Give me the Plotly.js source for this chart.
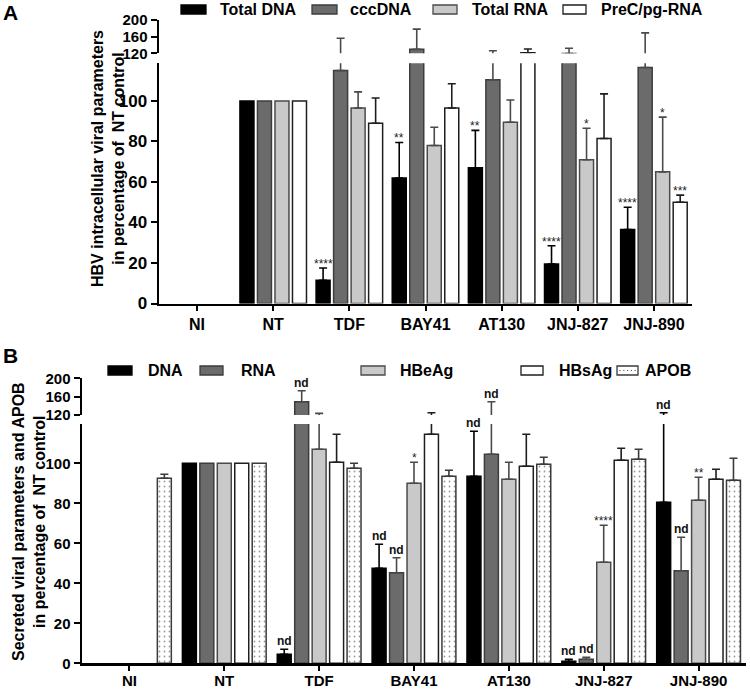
<!DOCTYPE html>
<html><head><meta charset="utf-8">
<script src="https://cdn.plot.ly/plotly-3.0.1.min.js"></script>
<style>html,body{margin:0;padding:0;background:#fff}#chart{width:750px;height:689px}</style>
</head><body><div id="chart"></div>
<script>
// ---------- DATA ----------
const categories = ['NI', 'NT', 'TDF', 'BAY41', 'AT130', 'JNJ-827', 'JNJ-890'];

// Panel A: HBV intracellular viral parameters (% of NT control)
const seriesA = ['Total DNA', 'cccDNA', 'Total RNA', 'PreC/pg-RNA'];
const totalDNA    = [null, 100, 11.5, 62, 67, 19.5, 36.5];
const totalDNAErr = [0, 0, 6, 17.5, 18.5, 9, 11];
const cccDNA      = [null, 100, 115, 129.5, 110.5, 119.3, 116.5];
const cccDNAErr   = [0, 0, 41, 48.5, 15.5, 12.7, 52.5];
const totalRNA    = [null, 100, 96.5, 78, 89.5, 71, 65];
const totalRNAErr = [0, 0, 8, 9, 11, 15.5, 27];
const preC        = [null, 100, 89, 96.5, 121.5, 81.5, 50];
const preCErr     = [0, 0, 12.5, 12, 9, 22, 3.5];

// Panel B: secreted viral parameters and APOB (% of NT control)
const seriesB = ['DNA', 'RNA', 'HBeAg', 'HBsAg', 'APOB'];
const dnaB      = [null, 100, 4.5, 47.5, 93.5, 1, 80.5];
const dnaBErr   = [0, 0, 2.5, 12, 22.5, 1, 44.5];
const rnaB      = [null, 100, 149, 45.3, 104.5, 2, 46.3];
const rnaBErr   = [0, 0, 24, 7.5, 44.5, 1, 16.7];
const hbeag     = [null, 100, 107, 90, 92, 50.5, 81.5];
const hbeagErr  = [0, 0, 16.5, 10.5, 8.5, 18.5, 11.5];
const hbsag     = [null, 100, 100.5, 114.5, 98.5, 101.5, 92];
const hbsagErr  = [0, 0, 14, 10.5, 16, 6, 5];
const apob      = [92.5, 100, 97.5, 93.5, 99.5, 102, 91.5];
const apobErr   = [2, 0, 2.5, 3, 3.5, 5, 11];

// significance labels: [series index, category, label]
const sigA = [[0, 'TDF', '****'], [0, 'BAY41', '**'], [0, 'AT130', '**'], [0, 'JNJ-827', '****'],
              [2, 'JNJ-827', '*'], [0, 'JNJ-890', '****'], [2, 'JNJ-890', '*'], [3, 'JNJ-890', '***']];
const sigB = [[0, 'TDF', 'nd'], [1, 'TDF', 'nd'], [0, 'BAY41', 'nd'], [1, 'BAY41', 'nd'], [2, 'BAY41', '*'],
              [0, 'AT130', 'nd'], [1, 'AT130', 'nd'], [0, 'JNJ-827', 'nd'], [1, 'JNJ-827', 'nd'],
              [2, 'JNJ-827', '****'], [0, 'JNJ-890', 'nd'], [1, 'JNJ-890', 'nd'], [2, 'JNJ-890', '**']];

const lowerTicks = [0, 20, 40, 60, 80, 100];
const upperTicks = [120, 160, 200];
const axisTitleA = 'HBV intracellular viral parameters<br>in percentage of  NT control';
const axisTitleB = 'Secreted viral parameters and APOB<br>in percentage of  NT control';

// ---------- STYLE / LAYOUT ----------
const W = 750, H = 689;
const px = x => x / W, py = y => 1 - y / H;
const FONT = 'Liberation Sans, Arial, sans-serif';
const BREAK = 120;

const valsA = [totalDNA, cccDNA, totalRNA, preC];
const errsA = [totalDNAErr, cccDNAErr, totalRNAErr, preCErr];
const valsB = [dnaB, rnaB, hbeag, hbsag, apob];
const errsB = [dnaBErr, rnaBErr, hbeagErr, hbsagErr, apobErr];

const stylesA = [
  {fill: '#000000', line: '#000000', err: '#000000'},
  {fill: '#6b6b6b', line: '#3c3c3c', err: '#4a4a4a'},
  {fill: '#c9c9c9', line: '#4a4a4a', err: '#4a4a4a'},
  {fill: '#ffffff', line: '#1e1e1e', err: '#1e1e1e'}
];
const stylesB = [
  {fill: '#000000', line: '#000000', err: '#000000'},
  {fill: '#6b6b6b', line: '#3c3c3c', err: '#4a4a4a'},
  {fill: '#c9c9c9', line: '#4a4a4a', err: '#4a4a4a'},
  {fill: '#ffffff', line: '#1e1e1e', err: '#1e1e1e'},
  {fill: '#ffffff', line: '#3a3a3a', err: '#3a3a3a', pattern: true}
];

function makeTrace(name, vals, errs, st, xa, ya) {
  const marker = {color: st.fill, line: {color: st.line, width: 1.5}};
  if (st.pattern) marker.pattern = {shape: '.', fgcolor: '#333', bgcolor: '#fff', size: 5, solidity: 0.1, fillmode: 'overlay'};
  return {
    type: 'bar', name: name, x: categories, y: vals, xaxis: xa, yaxis: ya,
    marker: marker, showlegend: false, hoverinfo: 'skip',
    error_y: {type: 'data', symmetric: false, array: errs.map(e => e > 0 ? e : NaN), arrayminus: [],
              color: st.err, thickness: 1.6, width: 4}
  };
}

const traces = [];
seriesA.forEach((n, i) => {
  traces.push(makeTrace(n, valsA[i], errsA[i], stylesA[i], 'x', 'y'));
  traces.push(makeTrace(n, valsA[i], errsA[i], stylesA[i], 'x', 'y2'));
});
seriesB.forEach((n, i) => {
  traces.push(makeTrace(n, valsB[i], errsB[i], stylesB[i], 'x2', 'y3'));
  traces.push(makeTrace(n, valsB[i], errsB[i], stylesB[i], 'x2', 'y4'));
});

const BARGAP = 0.08;
const offsA = [0, 1, 2, 3].map(i => (i - 1.5) * (1 - BARGAP) / 4);
const offsB = [0, 1, 2, 3, 4].map(i => (i - 2) * (1 - BARGAP) / 5);

const annotations = [];
function addSig(list, vals, errs, offs, xref, yLow, yUp) {
  list.forEach(([s, cat, txt]) => {
    const ci = categories.indexOf(cat);
    const top = vals[s][ci] + (errs[s][ci] || 0);
    const star = txt.indexOf('*') >= 0;
    annotations.push({
      x: ci + offs[s], y: top, xref: xref, yref: top > BREAK ? yUp : yLow,
      text: txt, showarrow: false, yanchor: 'bottom', xanchor: 'center',
      yshift: star ? -5 : -1,
      font: star ? {family: FONT, size: 12, color: '#222'} : {family: FONT, size: 12, color: '#111', weight: 'bold'}
    });
  });
}
addSig(sigA, valsA, errsA, offsA, 'x', 'y', 'y2');
addSig(sigB, valsB, errsB, offsB, 'x2', 'y3', 'y4');

// axis titles & panel letters
annotations.push({x: px(108), y: py(158), xref: 'paper', yref: 'paper', text: axisTitleA, textangle: -90,
  xanchor: 'center', yanchor: 'middle',
  showarrow: false, font: {family: FONT, size: 16, weight: 'bold', color: '#000'}, align: 'center'});
annotations.push({x: px(29), y: py(522), xref: 'paper', yref: 'paper', text: axisTitleB, textangle: -90,
  xanchor: 'center', yanchor: 'middle',
  showarrow: false, font: {family: FONT, size: 16, weight: 'bold', color: '#000'}, align: 'center'});
annotations.push({x: px(10), y: py(13), xref: 'paper', yref: 'paper', text: 'A', showarrow: false,
  xanchor: 'center', yanchor: 'middle', font: {family: FONT, size: 21, weight: 'bold', color: '#000'}});
annotations.push({x: px(10), y: py(355), xref: 'paper', yref: 'paper', text: 'B', showarrow: false,
  xanchor: 'center', yanchor: 'middle', font: {family: FONT, size: 21, weight: 'bold', color: '#000'}});

// custom legends
const shapes = [];
const legA = {sw: [[181, 206], [312, 337], [433, 457], [563, 586]], tx: [218, 348, 470, 599], y0: 5, y1: 14};
const legB = {sw: [[108, 132], [200, 223], [361, 385], [521, 543], [617, 638]], tx: [146, 239, 398, 557, 643], y0: 366, y1: 375};
function addLegend(names, styles, leg) {
  names.forEach((n, i) => {
    const st = styles[i];
    shapes.push({type: 'rect', xref: 'paper', yref: 'paper', x0: px(leg.sw[i][0]), x1: px(leg.sw[i][1]),
      y0: py(leg.y1), y1: py(leg.y0), fillcolor: st.fill, line: {color: st.line, width: 1.3}});
    if (st.pattern) {
      for (let k = 0; k < 5; k++) {
        const cx = leg.sw[i][0] + 3 + k * 3.8, cy = (leg.y0 + leg.y1) / 2;
        shapes.push({type: 'rect', xref: 'paper', yref: 'paper', x0: px(cx - 0.6), x1: px(cx + 0.6),
          y0: py(cy + 0.6), y1: py(cy - 0.6), fillcolor: '#555', line: {width: 0}});
      }
    }
    annotations.push({x: px(leg.tx[i]), y: py((leg.y0 + leg.y1) / 2), xref: 'paper', yref: 'paper', text: n,
      showarrow: false, xanchor: 'left', yanchor: 'middle', font: {family: FONT, size: 16, weight: 'bold', color: '#000'}});
  });
}
addLegend(seriesA, stylesA, legA);
addLegend(seriesB, stylesB, legB);

const axLine = {showline: true, linecolor: '#000', linewidth: 2.5, showgrid: false, zeroline: false,
  ticks: 'outside', tickcolor: '#000', tickwidth: 2, fixedrange: true};

const layout = {
  width: W, height: H, margin: {l: 0, r: 0, t: 0, b: 0},
  paper_bgcolor: '#fff', plot_bgcolor: 'rgba(0,0,0,0)',
  barmode: 'group', bargap: BARGAP, bargroupgap: 0.2, showlegend: false,
  font: {family: FONT, color: '#000'},
  xaxis: Object.assign({}, axLine, {domain: [px(159), px(692)], anchor: 'y', type: 'category',
    categoryorder: 'array', categoryarray: categories, range: [-0.5, 6.5], ticklen: 5,
    tickfont: {family: FONT, size: 16, weight: 'bold'}}),
  yaxis: Object.assign({}, axLine, {domain: [py(303.5), py(63.3)], anchor: 'x', range: [0, 118.6],
    tickvals: lowerTicks, ticklen: 6, tickfont: {family: FONT, size: 17, weight: 'bold'}}),
  yaxis2: Object.assign({}, axLine, {domain: [py(53.3), py(20)], anchor: 'x', range: [120, 200],
    tickvals: upperTicks, ticklen: 6, tickfont: {family: FONT, size: 15, weight: 'bold'}}),
  xaxis2: Object.assign({}, axLine, {domain: [px(82), px(746)], anchor: 'y3', type: 'category',
    categoryorder: 'array', categoryarray: categories, range: [-0.5, 6.5], ticklen: 5,
    ticklabelstandoff: -3, tickfont: {family: FONT, size: 15, weight: 'bold'}}),
  yaxis3: Object.assign({}, axLine, {domain: [py(663.3), py(424)], anchor: 'x2', range: [0, 119.65],
    tickvals: lowerTicks, ticklen: 6, tickfont: {family: FONT, size: 15, weight: 'bold'}}),
  yaxis4: Object.assign({}, axLine, {domain: [py(415), py(378.3)], anchor: 'x2', range: [120, 200],
    tickvals: upperTicks, ticklen: 6, tickfont: {family: FONT, size: 15, weight: 'bold'}}),
  annotations: annotations,
  shapes: shapes
};

Plotly.newPlot('chart', traces, layout, {staticPlot: true, displayModeBar: false});
</script>
</body></html>
